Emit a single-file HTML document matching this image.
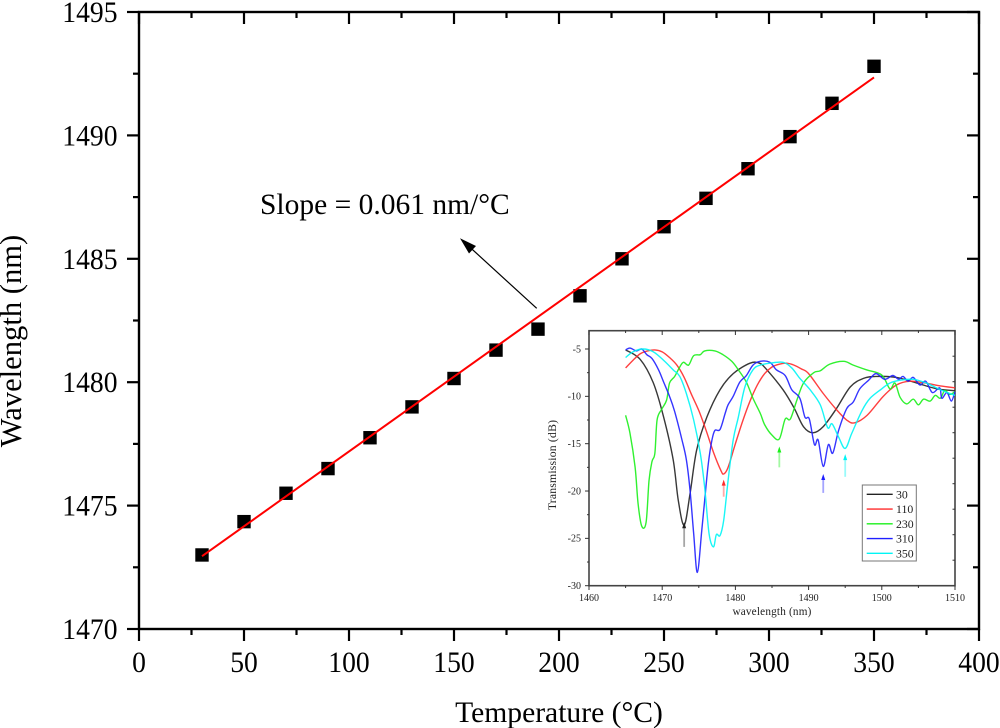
<!DOCTYPE html>
<html lang="en">
<head>
<meta charset="utf-8">
<title>Wavelength vs Temperature</title>
<style>
html,body{margin:0;padding:0;background:#fff;}
svg{display:block;font-family:"Liberation Serif",serif;filter:blur(0.3px);}
</style>
</head>
<body>
<svg id="chart" xmlns="http://www.w3.org/2000/svg" width="1000" height="728" viewBox="0 0 1000 728"></svg>
<script>
// ---- main chart data ----
const temperatures = [30,50,70,90,110,130,150,170,190,210,230,250,270,290,310,330,350];
const wavelengths = [1473.0,1474.35,1475.5,1476.5,1477.75,1479.0,1480.15,1481.3,1482.15,1483.5,1485.0,1486.3,1487.45,1488.65,1489.95,1491.3,1492.8];
const fitTemps = [30,350];
const fitWavelengths = [1472.95,1492.35];
const xMajorTicks = [0,50,100,150,200,250,300,350,400];
const xMinorTicks = [25,75,125,175,225,275,325,375];
const yMajorTicks = [1470,1475,1480,1485,1490,1495];
const yMinorTicks = [1472.5,1477.5,1482.5,1487.5,1492.5];

// ---- inset chart data: wavelength (nm) and transmission (dB) per series ----
const insetLabels = ["30","110","230","310","350"];
const blackNm = [1465,1467,1468.8,1470.2,1471.5,1472.2,1473,1473.8,1474.7,1476.1,1477.9,1479.7,1482,1483.3,1484.3,1486.5,1488,1489.3,1490.6,1492,1493.8,1495.7,1497.5,1499.3,1502,1504.8,1507.5,1510];
const blackDb = [-5.1,-6.1,-8.6,-12.2,-16.7,-21,-23.6,-20.3,-15.7,-12.2,-9.3,-7.6,-6.5,-6.5,-7.2,-9.3,-11.2,-13.2,-13.85,-13.2,-11.3,-9,-8.1,-7.9,-8,-8.6,-9.2,-9.4];
const redNm = [1465,1466,1467,1468,1469,1470,1471,1472,1473,1474,1475,1476,1477,1478,1478.4,1479,1480,1481,1482,1483,1484,1485,1486,1487,1488,1489,1490,1492,1493.8,1495.2,1496.3,1498,1500.2,1502,1503.9,1506,1508,1510];
const redDb = [-7,-6.2,-5.5,-5.2,-5.1,-5.3,-5.9,-6.7,-8,-9.8,-11.5,-13.6,-15.9,-17.8,-18.2,-17.5,-15,-12.6,-10.5,-8.8,-7.6,-6.9,-6.6,-6.5,-6.7,-7.1,-7.6,-9.7,-11.4,-12.5,-12.8,-12,-10,-8.8,-8.4,-8.6,-8.9,-9.1];
const greenNm = [1465,1465.6,1466.3,1466.7,1467.2,1467.8,1468.2,1468.6,1469,1469.3,1469.9,1470.6,1471,1471.7,1472.4,1472.9,1473.6,1474.3,1475.2,1475.8,1477.2,1478.3,1479.5,1480.4,1481.5,1482.4,1483.4,1484,1485,1486,1486.8,1487.5,1488.4,1489.3,1490.7,1491.6,1492.9,1494.8,1496.1,1497.9,1500,1501.1,1501.8,1502.5,1503.4,1504.3,1505,1505.7,1506.6,1507.3,1508,1508.6,1509.3,1510];
const greenDb = [-12,-13.9,-17.5,-21.3,-23.7,-23.3,-18.9,-16.9,-16,-12.5,-11.4,-10.4,-8.6,-7.9,-6.9,-6.4,-6.7,-5.7,-5.6,-5.2,-5.2,-5.6,-6.3,-7.2,-8.5,-10.2,-11.8,-13,-14.1,-14.5,-12.4,-12.4,-10.4,-8.6,-7.5,-7.3,-6.6,-6.3,-6.7,-7.2,-7.75,-9.2,-8.6,-10.1,-10.8,-10.3,-10.9,-10.3,-10.5,-9.9,-10.2,-9.4,-9.8,-9.5];
const blueNm = [1465,1465.6,1466.5,1467.2,1467.9,1468.6,1469.5,1470.2,1471,1471.7,1472.7,1473.3,1473.8,1474.3,1474.8,1475.4,1475.8,1476.3,1476.8,1477.2,1477.9,1478.6,1479,1479.7,1480.6,1481.5,1482.4,1483.4,1484.7,1485.6,1486.8,1487.7,1488.8,1489.5,1490.1,1490.8,1491.3,1492,1492.7,1493.3,1494.1,1495.2,1496.1,1497,1498.2,1499.2,1500.4,1501.5,1502.3,1502.9,1503.6,1504.3,1505.2,1506,1506.9,1507.9,1508.2,1508.9,1509.5,1510];
const blueDb = [-5.1,-4.9,-5.2,-5,-5.6,-6,-7.2,-8.5,-10,-11.6,-14.6,-16.7,-19.9,-24.5,-28.6,-24.2,-21,-17.1,-14.6,-13.6,-13.5,-11.8,-10.9,-10,-8.5,-7.8,-6.7,-6.3,-6.4,-7.2,-7.8,-9.3,-10.2,-12.2,-12.4,-15.1,-14.6,-17.4,-15.1,-16,-13.6,-11.3,-10.6,-9.2,-8.3,-7.6,-8.2,-7.8,-8.2,-7.9,-8.4,-8,-8.8,-8.4,-9.6,-9.1,-10.2,-9.6,-10.5,-9.5];
const cyanNm = [1465,1466,1467.4,1468.8,1470.2,1471.5,1472.4,1473.3,1474.3,1475.2,1475.8,1476.4,1477,1477.4,1477.9,1478.4,1479,1479.7,1480.4,1481.3,1482.4,1483.4,1484.7,1486.5,1487.7,1488.8,1490.2,1491.6,1492.6,1493.2,1494.1,1495,1495.9,1497.3,1498.4,1500,1501.1,1502.5,1504.3,1506.1,1508,1510];
const cyanDb = [-5.9,-5.3,-5,-5.3,-6.2,-7.2,-7.9,-9.7,-12.5,-16,-19.6,-24.5,-25.9,-24.6,-24.7,-23.1,-18.9,-14.6,-12.2,-9,-7.2,-6.7,-6.5,-6.4,-7,-8.1,-9.3,-10.9,-13.3,-12.9,-14.3,-15.5,-13.9,-11.5,-10.2,-9.2,-8.6,-8.3,-8.2,-8.6,-9.3,-9.9];
const arrowNm = [1473,1478.4,1486,1492,1495];
const arrowTipDb = [-23.3,-18.8,-15.3,-18.2,-16.1];
const arrowTailDb = [-25.9,-20.6,-17.5,-20.2,-18.5];
const insetXMajor = [1460,1470,1480,1490,1500,1510];
const insetXMinor = [1465,1475,1485,1495,1505];
const insetYMajor = [-30,-25,-20,-15,-10,-5];
const insetYMinor = [-27.5,-22.5,-17.5,-12.5,-7.5];
const insetColors = ["#222222","#ff2a2a","#19f019","#1f1fff","#00f5f5"];

// ---- axis functions ----
const xScale = v => 139 + (v - 0) * (979 - 139) / 400;
const yScale = v => 629 - (v - 1470) * (629 - 12) / 25;
const inX = v => 589 + (v - 1460) * (955 - 589) / 50;
const inY = v => 585.7 - (v + 30) * (585.7 - 349) / 25;

const NS = "http://www.w3.org/2000/svg";
const root = document.getElementById("chart");
function el(parent, tag, attrs, text){
  const n = document.createElementNS(NS, tag);
  for (const k in attrs) n.setAttribute(k, attrs[k]);
  if (text !== undefined) n.textContent = text;
  parent.appendChild(n);
  return n;
}
function smoothPath(xs, ys){
  const p = xs.map((x,i)=>[inX(x), inY(ys[i])]);
  let d = "M" + p[0][0].toFixed(2) + " " + p[0][1].toFixed(2);
  for (let i = 0; i < p.length - 1; i++){
    const a = p[Math.max(i-1,0)], b = p[i], c = p[i+1], e = p[Math.min(i+2,p.length-1)];
    const c1x = b[0] + (c[0]-a[0])/6, c1y = b[1] + (c[1]-a[1])/6;
    const c2x = c[0] - (e[0]-b[0])/6, c2y = c[1] - (e[1]-b[1])/6;
    d += "C" + [c1x,c1y,c2x,c2y,c[0],c[1]].map(v=>v.toFixed(2)).join(" ");
  }
  return d;
}

// ---- main frame ----
const frame = el(root, "rect", {x:139,y:12,width:840,height:617,fill:"#fff",stroke:"#000","stroke-width":2.4});



// ---- main ticks ----
const mainTicks = el(root, "g", {stroke:"#000","stroke-width":2.2});


xMajorTicks.forEach(v => {
  el(mainTicks,"line",{x1:xScale(v),x2:xScale(v),y1:629,y2:641});
  el(mainTicks,"line",{x1:xScale(v),x2:xScale(v),y1:12,y2:24});
});
xMinorTicks.forEach(v => {
  el(mainTicks,"line",{x1:xScale(v),x2:xScale(v),y1:629,y2:635});
  el(mainTicks,"line",{x1:xScale(v),x2:xScale(v),y1:12,y2:18});
});
yMajorTicks.forEach(v => {
  el(mainTicks,"line",{x1:127,x2:139,y1:yScale(v),y2:yScale(v)});
  el(mainTicks,"line",{x1:967,x2:979,y1:yScale(v),y2:yScale(v)});
});
yMinorTicks.forEach(v => {
  el(mainTicks,"line",{x1:133,x2:139,y1:yScale(v),y2:yScale(v)});
  el(mainTicks,"line",{x1:973,x2:979,y1:yScale(v),y2:yScale(v)});
});

// ---- main tick labels (slightly tall glyphs, as in the reference) ----
xMajorTicks.forEach(v => {
  const s = String(v);
  const t = el(root,"text",{x:xScale(v),y:672,"text-anchor":"middle","font-size":29.5,textLength:s.length*13.8,lengthAdjust:"spacingAndGlyphs",fill:"#000"},s);
  
  
});
yMajorTicks.forEach(v => {
  const s = String(v);
  const t = el(root,"text",{x:117.5,y:yScale(v)+10,"text-anchor":"end","font-size":29.5,textLength:s.length*13.8,lengthAdjust:"spacingAndGlyphs",fill:"#000"},s);
  
  
});

// ---- titles ----
const xTitle = el(root,"text",{x:559,y:722,"text-anchor":"middle","font-size":29.6,fill:"#000"},"Temperature (°C)");


const yTitle = el(root,"text",{x:0,y:0,transform:"translate(21,341) rotate(-90)","text-anchor":"middle","font-size":30.6,fill:"#000"},"Wavelength (nm)");



// ---- fit line + points ----
const fit = el(root,"line",{x1:xScale(fitTemps[0]),y1:yScale(fitWavelengths[0]),x2:xScale(fitTemps[1]),y2:yScale(fitWavelengths[1]),stroke:"#ff0000","stroke-width":2});
const squares = el(root,"g",{fill:"#000"});


temperatures.forEach((t,i) => {
  const s = el(squares,"rect",{x:xScale(t)-6.7,y:yScale(wavelengths[i])-6.7,width:13.4,height:13.4});
  
  
});
root.appendChild(fit);



// ---- annotation ----
const slope = el(root,"text",{x:260,y:214,"font-size":29.5,fill:"#000"},"Slope = 0.061 nm/°C");


const slopeArrow = el(root,"g",{});


el(slopeArrow,"line",{x1:536.7,y1:308.3,x2:468,y2:245.5,stroke:"#000","stroke-width":1.2});
el(slopeArrow,"polygon",{points:"460,238.3 476,246 469,253.5",fill:"#000"});

// ---- inset ----
const inset = el(root,"g",{style:"filter:blur(0.25px)"});


const insetFrame = el(inset,"rect",{x:589,y:330.7,width:366,height:255,fill:"#fff",stroke:"#444","stroke-width":1.6});



const inTicks = el(inset,"g",{stroke:"#333","stroke-width":1});


insetXMajor.forEach(v => {
  el(inTicks,"line",{x1:inX(v),x2:inX(v),y1:585.7,y2:590});
  el(inTicks,"line",{x1:inX(v),x2:inX(v),y1:330.7,y2:335});
});
insetXMinor.forEach(v => {
  el(inTicks,"line",{x1:inX(v),x2:inX(v),y1:585.7,y2:588});
  el(inTicks,"line",{x1:inX(v),x2:inX(v),y1:330.7,y2:333});
});
insetYMajor.forEach(v => el(inTicks,"line",{x1:585,x2:589,y1:inY(v),y2:inY(v)}));
insetYMinor.forEach(v => el(inTicks,"line",{x1:587,x2:589,y1:inY(v),y2:inY(v)}));
for (let i = 1; i < 10; i++){
  const ry = 585.7 - i * 25.5;
  el(inTicks,"line",{x1:952.5,x2:955,y1:ry,y2:ry});
}

insetXMajor.forEach(v => {
  const t = el(inset,"text",{x:inX(v),y:601,"text-anchor":"middle","font-size":10,fill:"#222"},String(v));
  
  
});
insetYMajor.forEach(v => {
  const t = el(inset,"text",{x:581,y:inY(v)+3.3,"text-anchor":"end","font-size":10,fill:"#222"},String(v));
  
  
});
const inXTitle = el(inset,"text",{x:772,y:615,"text-anchor":"middle","font-size":11.2,"letter-spacing":0.2,fill:"#222"},"wavelength (nm)");


const inYTitle = el(inset,"text",{x:0,y:0,transform:"translate(556,465) rotate(-90)","text-anchor":"middle","font-size":11.7,"letter-spacing":0.2,fill:"#222"},"Transmission (dB)");



const seriesNm = [blackNm,redNm,greenNm,blueNm,cyanNm];
const seriesDb = [blackDb,redDb,greenDb,blueDb,cyanDb];
seriesNm.forEach((xs,i) => {
  const c = el(inset,"path",{d:smoothPath(xs,seriesDb[i]),fill:"none",stroke:insetColors[i],"stroke-width":1.4,"stroke-linejoin":"round",opacity:0.9});
  
  
});

// ---- resonance arrows ----
arrowNm.forEach((nm,i) => {
  const g = el(inset,"g",{});
  
  
  const x = inX(nm), tip = inY(arrowTipDb[i]), tail = inY(arrowTailDb[i]);
  el(g,"line",{x1:x,x2:x,y1:tail,y2:tip+5,stroke:insetColors[i],"stroke-width":1.8,opacity:0.4});
  el(g,"polygon",{points:`${x},${tip} ${x-2},${tip+6} ${x+2},${tip+6}`,fill:insetColors[i]});
});

// ---- inset legend ----
const legend = el(inset,"g",{});


const legendBox = el(legend,"rect",{x:862.3,y:485,width:54,height:76,fill:"#fff",stroke:"#777","stroke-width":1});


insetLabels.forEach((lab,i) => {
  const ly = 494.3 + i * 14.75;
  const ln = el(legend,"line",{x1:866.7,x2:892.7,y1:ly,y2:ly,stroke:insetColors[i],"stroke-width":1.3});
  
  
  const tx = el(legend,"text",{x:896,y:ly+4,"font-size":11.8,fill:"#222"},lab);
  
  
});
</script>
</body>
</html>
